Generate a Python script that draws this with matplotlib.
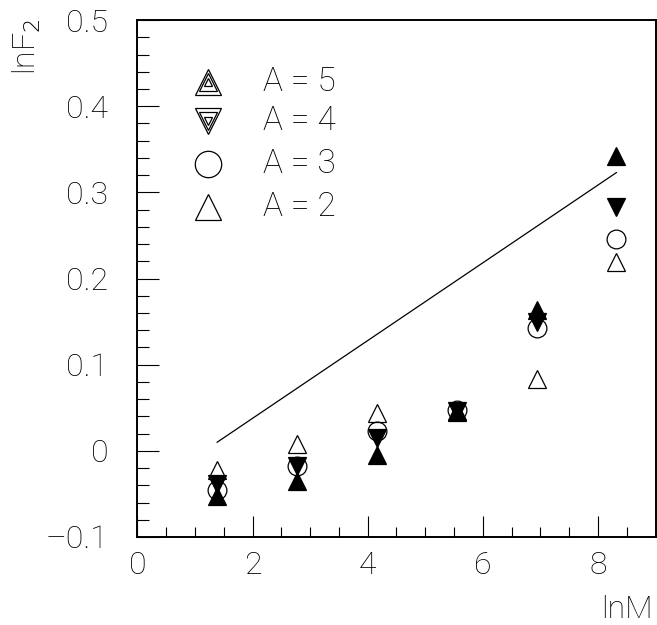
import numpy as np
import matplotlib
matplotlib.use("Agg")
import matplotlib.pyplot as plt
from matplotlib.ticker import MultipleLocator

plt.rcParams['font.family'] = ['Roboto', 'DejaVu Sans']
plt.rcParams['font.weight'] = 'light'

# lnM positions (M = 4, 16, 64, 256, 1024, 4096)
lnM = [1.386, 2.773, 4.159, 5.545, 6.931, 8.318]

# lnF2 for each nucleus
f2_A2 = [-0.022, 0.008, 0.044, 0.045, 0.083, 0.219]
f2_A3 = [-0.045, -0.018, 0.023, 0.047, 0.143, 0.246]
f2_A4 = [-0.038, -0.018, 0.015, 0.046, 0.150, 0.283]
f2_A5 = [-0.052, -0.035, -0.005, 0.046, 0.163, 0.342]

# straight reference line
line_x = [1.386, 8.318]
line_y = [0.010, 0.323]

legend_labels = ['A=5', 'A=4', 'A=3', 'A=2']

fig = plt.figure(figsize=(6.57, 6.25), dpi=100)
ax = fig.add_axes([0.209, 0.1408, 0.789, 0.827])

ax.plot(line_x, line_y, color='black', lw=0.9)

ax.plot(lnM, f2_A2, ls='none', marker='^', ms=13, mfc='none', mec='black', mew=0.9)
ax.plot(lnM, f2_A3, ls='none', marker='o', ms=13.5, mfc='none', mec='black', mew=0.9)
ax.plot(lnM, f2_A4, ls='none', marker='v', ms=13, mfc='black', mec='black', mew=0.9)
ax.plot(lnM, f2_A5, ls='none', marker='^', ms=13, mfc='black', mec='black', mew=0.9)

# hand-made legend (nested triangles like the original)
lx = 0.136
ly = [0.881, 0.805, 0.721, 0.639]
tx = 0.243
tr = ax.transAxes
for s in [19, 12.5, 6]:
    ax.plot([lx], [ly[0]], transform=tr, marker='^', ms=s, mfc='none', mec='black', mew=0.9)
    ax.plot([lx], [ly[1]], transform=tr, marker='v', ms=s, mfc='none', mec='black', mew=0.9)
ax.plot([lx], [ly[2]], transform=tr, marker='o', ms=19, mfc='none', mec='black', mew=0.9)
ax.plot([lx], [ly[3]], transform=tr, marker='^', ms=19, mfc='none', mec='black', mew=0.9)
for y, lab in zip(ly, legend_labels):
    ax.text(tx, y, lab.replace('=', ' = '), transform=tr, fontsize=24, va='center', ha='left')

ax.set_xlim(0, 9)
ax.set_ylim(-0.1, 0.5)
ax.xaxis.set_major_locator(MultipleLocator(2))
ax.xaxis.set_minor_locator(MultipleLocator(0.5))
ax.yaxis.set_major_locator(MultipleLocator(0.1))
ax.yaxis.set_minor_locator(MultipleLocator(0.02))
ax.yaxis.set_major_formatter(plt.FuncFormatter(lambda v, p: '0' if abs(v) < 1e-9 else f'{v:.1f}'.replace('-', '\u2013')))

ax.tick_params(axis='x', which='major', direction='in', length=15, width=0.8, pad=10, labelsize=23)
ax.tick_params(axis='x', which='minor', direction='in', length=7.5, width=0.8)
ax.tick_params(axis='y', which='major', direction='in', length=16, width=0.8, pad=21, labelsize=23)
ax.tick_params(axis='y', which='minor', direction='in', length=8.5, width=0.8)
ax.tick_params(top=False, right=False, which='both')
for sp in ax.spines.values():
    sp.set_linewidth(1.4)

fig.text(653/657, 1 - 595/625, 'lnM', fontsize=23, ha='right', va='top')
fig.text(27/657, 1 - 18/625, 'lnF$_2$', fontsize=23, rotation=90, ha='center', va='top')

fig.savefig('out.png', dpi=100)
